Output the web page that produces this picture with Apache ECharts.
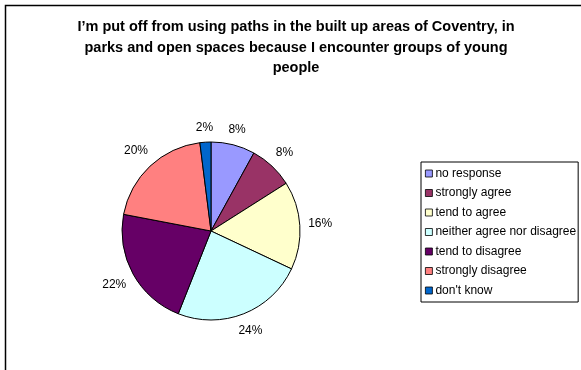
<!DOCTYPE html>
<html>
<head>
<meta charset="utf-8">
<style>
  html, body { margin: 0; padding: 0; background: #fff; }
  #chart { width: 581px; height: 370px; }
</style>
<script src="https://cdn.jsdelivr.net/npm/echarts@6/dist/echarts.min.js"></script>
</head>
<body>
<div id="chart"></div>
<script>
// Survey responses (percent of respondents)
const categories = [
  'no response',
  'strongly agree',
  'tend to agree',
  'neither agree nor disagree',
  'tend to disagree',
  'strongly disagree',
  "don't know"
];
const percentages = [8, 8, 16, 24, 22, 20, 2];
const sliceColors = ['#9999FF', '#993366', '#FFFFCC', '#CCFFFF', '#660066', '#FF8080', '#0066CC'];
const titleText = 'I\u2019m put off from using paths in the built up areas of Coventry, in\nparks and open spaces because I encounter groups of young\npeople';

const chart = echarts.init(document.getElementById('chart'), null, { renderer: 'canvas' });

const font = '"Liberation Sans", Arial, sans-serif';
const pieCenter = [211, 231];
const pieRadius = 89;
const labelGap = 8;

// Mid angle of each slice (radians, clockwise from 12 o'clock)
const total = percentages.reduce((a, b) => a + b, 0);
const midAngles = [];
percentages.reduce((acc, v) => {
  midAngles.push((acc + v / 2) / total * Math.PI * 2);
  return acc + v;
}, 0);

chart.setOption({
  animation: false,
  backgroundColor: '#ffffff',
  color: sliceColors,
  title: {
    text: titleText,
    left: 291,
    textAlign: 'center',
    top: 12,
    textStyle: {
      fontFamily: font,
      fontSize: 14.5,
      fontWeight: 'bold',
      color: '#000',
      lineHeight: 20.5
    }
  },
  legend: {
    orient: 'vertical',
    left: 421,
    top: 162,
    padding: [5, 2, 5, 4],
    borderColor: '#000',
    borderWidth: 1,
    itemWidth: 7,
    itemHeight: 7,
    itemGap: 6.5,
    icon: 'rect',
    selectedMode: false,
    itemStyle: { borderColor: '#000', borderWidth: 0.8 },
    textStyle: {
      fontFamily: font,
      fontSize: 12,
      color: '#000',
      lineHeight: 13,
      padding: [0, 0, 0, -2]
    },
    data: categories
  },
  graphic: [{
    type: 'rect',
    shape: { x: 5.5, y: 5.5, width: 640, height: 420 },
    style: { fill: 'none', stroke: '#000', lineWidth: 1.5 },
    silent: true,
    z: 100
  }],
  series: [{
    type: 'pie',
    center: pieCenter,
    radius: pieRadius,
    startAngle: 90,
    clockwise: true,
    data: categories.map((name, i) => ({ name, value: percentages[i] })),
    itemStyle: { borderColor: '#000', borderWidth: 1 },
    label: {
      show: true,
      position: 'outside',
      formatter: p => p.value + '%',
      fontFamily: font,
      fontSize: 12,
      color: '#000'
    },
    labelLine: { show: false, length: 8, length2: 0 },
    // Centre each label just outside its slice, offset by half the label box
    labelLayout: params => {
      const a = midAngles[params.dataIndex];
      const s = Math.sin(a), c = Math.cos(a);
      const w = params.labelRect.width, h = params.labelRect.height;
      const r = pieRadius + labelGap + Math.abs(w / 2 * s) + Math.abs(h / 2 * c);
      return {
        x: pieCenter[0] + r * s,
        y: pieCenter[1] - r * c,
        align: 'center',
        verticalAlign: 'middle'
      };
    },
    emphasis: { disabled: true }
  }]
});
</script>
</body>
</html>
